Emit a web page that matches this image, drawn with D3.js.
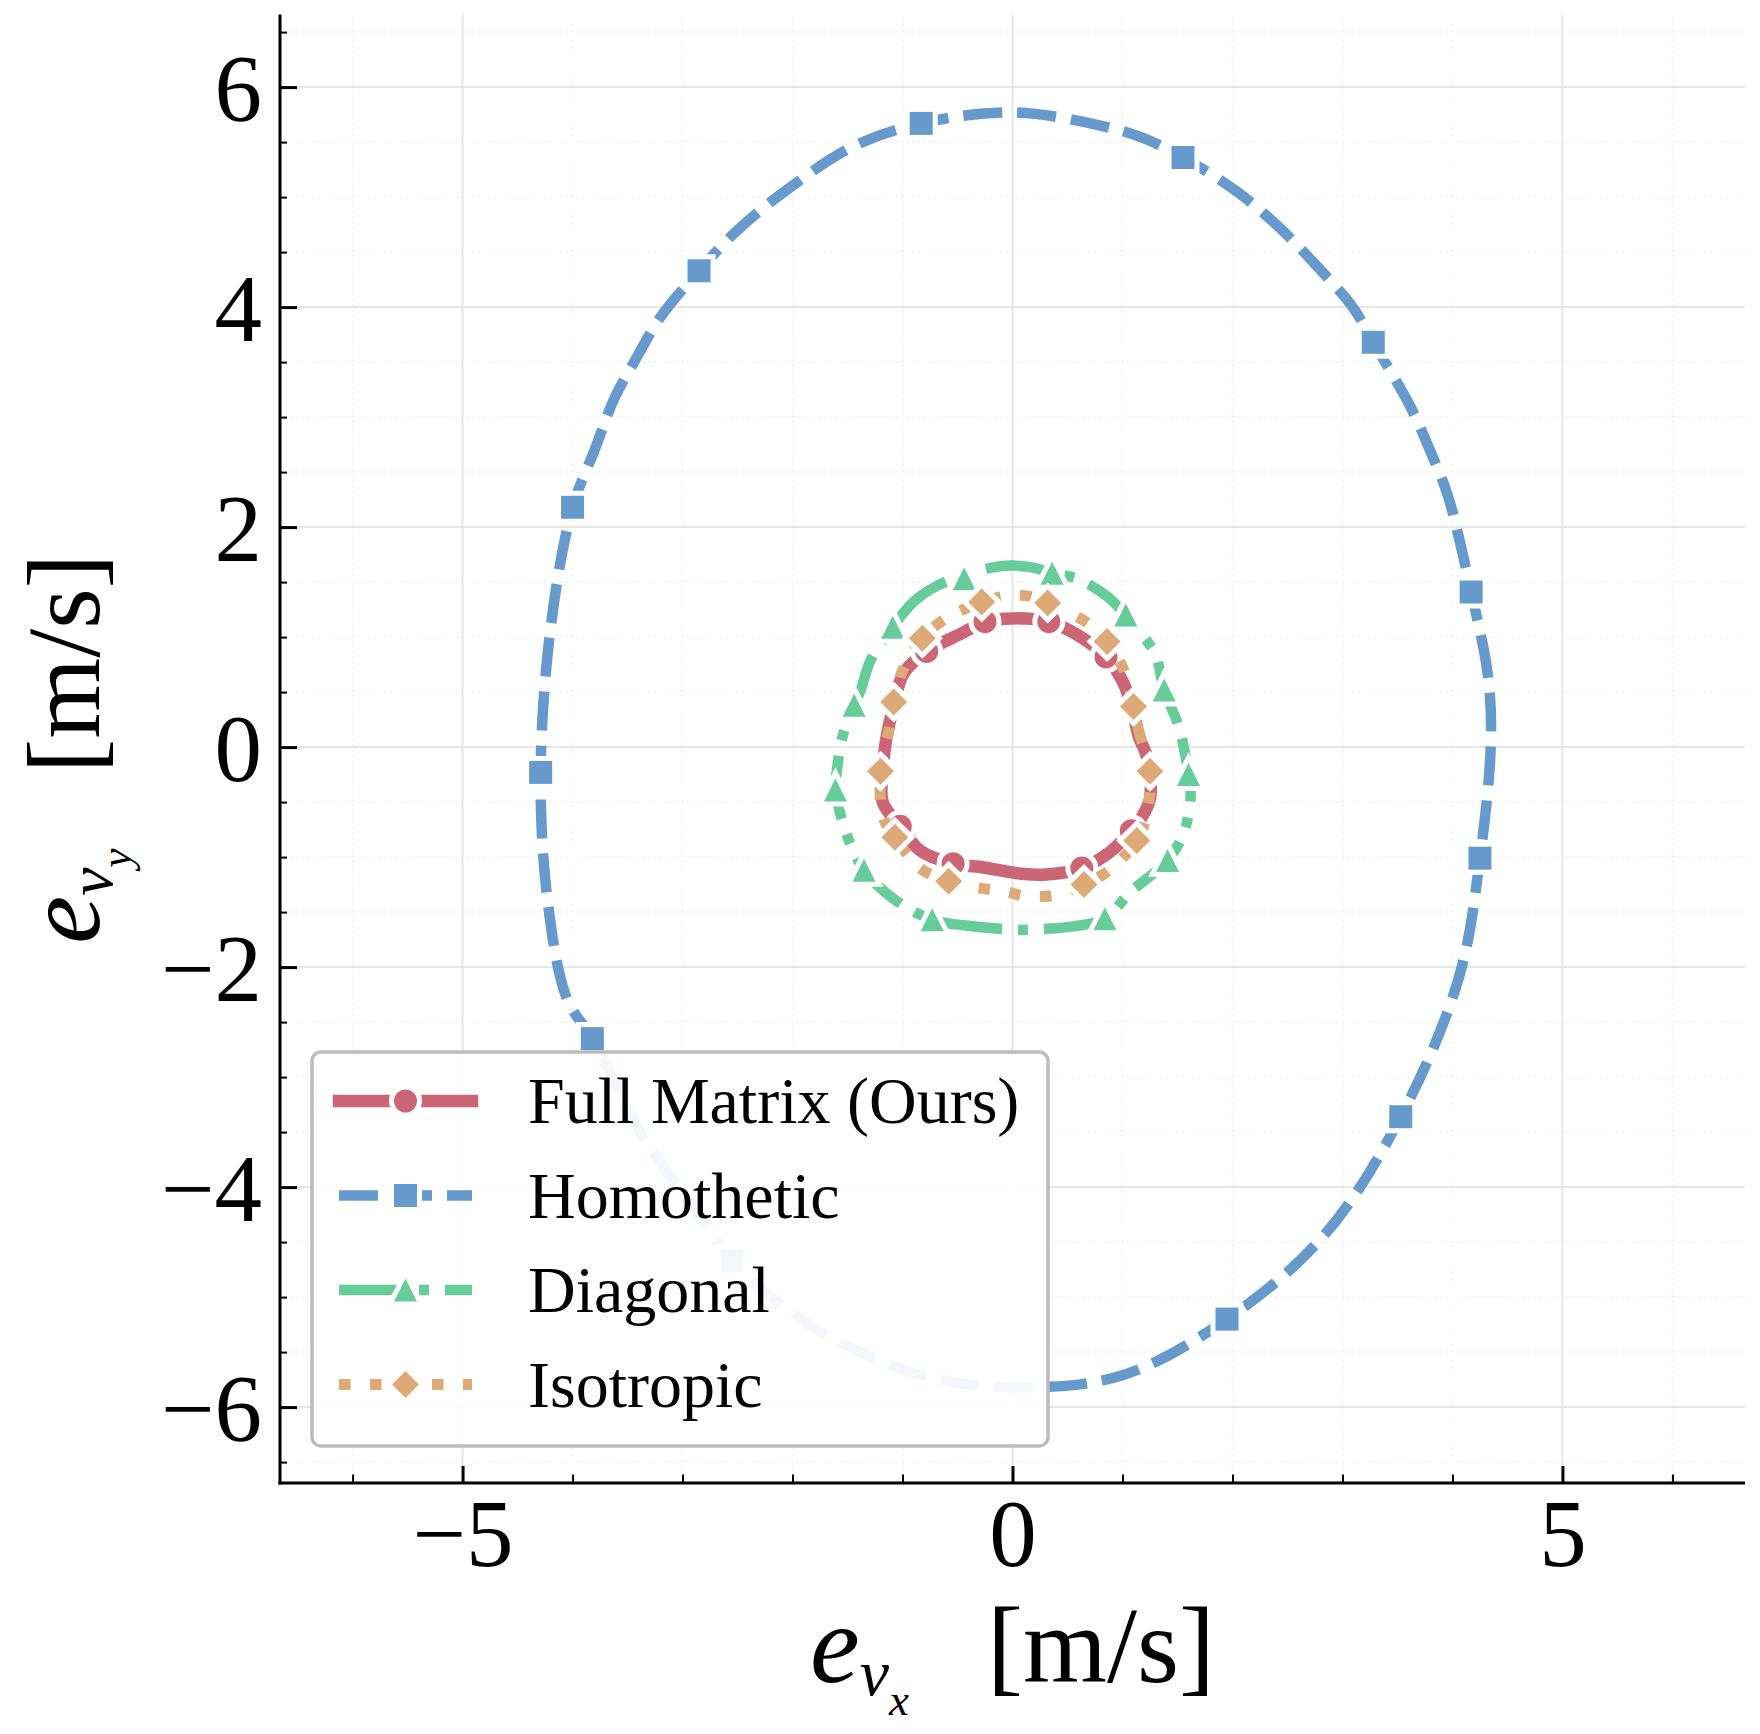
<!DOCTYPE html>
<html>
<head>
<meta charset="utf-8">
<script src="https://cdn.jsdelivr.net/npm/d3@7"></script>
<style>
  body { margin: 0; background: #fff; }
  text { font-family: "Liberation Serif", "Times New Roman", serif; fill: #000; }
</style>
</head>
<body>
<div id="graph"></div>
<script>
// ---- data (m/s) ----
var seriesNames = ["Full Matrix (Ours)", "Homothetic", "Diagonal", "Isotropic"];

var xTicks = [-5, 0, 5];
var yTicks = [-6, -4, -2, 0, 2, 4, 6];
var xMinorTicks = [-6, -4, -3, -2, -1, 1, 2, 3, 4, 6];
var yMinorTicks = [-6.5, -5.5, -5, -4.5, -3.5, -3, -2.5, -1.5, -1, -0.5,
                   0.5, 1, 1.5, 2.5, 3, 3.5, 4.5, 5, 5.5, 6.5];

var fullMatrixCurve = [
  [1.21, -0.05], [1.15, 0.09], [1.09, 0.34], [1.01, 0.58], [0.85, 0.82], [0.59, 1.02],
  [0.33, 1.14], [0.00, 1.17], [-0.25, 1.14], [-0.47, 1.03], [-0.78, 0.87], [-0.99, 0.67],
  [-1.09, 0.34], [-1.15, 0.06], [-1.18, -0.22], [-1.18, -0.50], [-1.02, -0.72], [-0.84, -0.94],
  [-0.54, -1.06], [-0.29, -1.09], [0.07, -1.15], [0.28, -1.16], [0.63, -1.10], [0.89, -0.95],
  [1.08, -0.76], [1.18, -0.63], [1.25, -0.47], [1.25, -0.24]
];
var fullMatrixMarks = [
  [-0.25, 1.14], [0.33, 1.14], [-0.78, 0.87], [0.85, 0.82],
  [-1.02, -0.72], [-0.54, -1.06], [0.63, -1.10], [1.08, -0.76]
];

var homotheticCurve = [
  [4.35, 0.06], [4.32, 0.67], [4.17, 1.41], [3.96, 2.28], [3.82, 2.64], [3.61, 3.11],
  [3.28, 3.68], [3.10, 3.99], [2.77, 4.37], [2.43, 4.72], [2.04, 5.05], [1.55, 5.36],
  [1.18, 5.54], [0.80, 5.65], [0.00, 5.77], [-0.83, 5.67], [-1.45, 5.46], [-2.06, 5.06],
  [-2.50, 4.70], [-2.85, 4.33], [-3.20, 3.91], [-3.44, 3.50], [-3.62, 3.17], [-3.80, 2.70],
  [-4.00, 2.18], [-4.20, 1.08], [-4.29, -0.23], [-4.23, -1.37], [-4.05, -2.29], [-3.82, -2.65],
  [-3.38, -3.51], [-2.87, -4.23], [-2.55, -4.67], [-1.85, -5.25], [-0.83, -5.71], [0.09, -5.82],
  [1.00, -5.71], [1.95, -5.20], [2.84, -4.43], [3.53, -3.36], [4.06, -2.09], [4.25, -1.01]
];
var homotheticMarks = [
  [-0.83, 5.67], [1.55, 5.36], [3.28, 3.68], [4.17, 1.41], [4.25, -1.01], [3.53, -3.36],
  [1.95, -5.20], [-2.55, -4.67], [-3.82, -2.65], [-4.29, -0.23], [-4.00, 2.18], [-2.85, 4.33]
];

var diagonalCurve = [
  [1.54, 0.08], [1.50, 0.22], [1.38, 0.52], [1.30, 0.84], [1.18, 1.02], [1.03, 1.20],
  [0.86, 1.37], [0.59, 1.53], [0.36, 1.58], [0.20, 1.63], [0.00, 1.65], [-0.20, 1.63],
  [-0.44, 1.56], [-0.68, 1.47], [-0.90, 1.32], [-1.09, 1.09], [-1.29, 0.79], [-1.38, 0.52],
  [-1.44, 0.38], [-1.55, 0.08], [-1.59, -0.16], [-1.61, -0.39], [-1.56, -0.63], [-1.47, -0.89],
  [-1.35, -1.12], [-1.08, -1.38], [-0.73, -1.57], [-0.44, -1.62], [0.01, -1.66], [0.16, -1.66],
  [0.55, -1.63], [0.84, -1.56], [1.07, -1.32], [1.41, -1.03], [1.56, -0.77], [1.62, -0.44],
  [1.60, -0.25]
];
var diagonalMarks = [
  [-0.44, 1.53], [0.36, 1.58], [-1.09, 1.09], [1.03, 1.20], [-1.44, 0.38], [1.38, 0.52],
  [-1.61, -0.39], [1.60, -0.25], [-1.35, -1.12], [1.41, -1.03], [-0.73, -1.57], [0.84, -1.56]
];

var isotropicCurve = [
  [1.20, -0.03], [1.15, 0.14], [1.10, 0.37], [1.02, 0.68], [0.86, 0.96], [0.68, 1.13],
  [0.32, 1.31], [0.16, 1.37], [0.00, 1.38], [-0.09, 1.37], [-0.28, 1.32], [-0.62, 1.16],
  [-0.82, 0.99], [-0.99, 0.72], [-1.08, 0.41], [-1.12, 0.17], [-1.17, -0.03], [-1.20, -0.22],
  [-1.18, -0.63], [-1.07, -0.82], [-0.84, -1.10], [-0.58, -1.22], [-0.31, -1.28], [-0.03, -1.32],
  [0.09, -1.35], [0.36, -1.35], [0.65, -1.25], [0.88, -1.12], [1.13, -0.85], [1.21, -0.66],
  [1.25, -0.41], [1.25, -0.22]
];
var isotropicMarks = [
  [-0.28, 1.32], [0.32, 1.31], [-0.82, 0.99], [0.86, 0.96], [-1.08, 0.41], [1.10, 0.37],
  [-1.20, -0.22], [1.25, -0.22], [-1.07, -0.82], [1.13, -0.85], [-0.58, -1.22], [0.65, -1.25]
];

// ---- styling ----
var w = 1760, h = 1734;
var styles = [
  {color: "#CC6677", width: 12.5, dash: null,             marker: "circle",   r: 11.5, cap: "square"},
  {color: "#6699CC", width: 10.5, dash: "39,15",          marker: "square",   r: 11.5, cap: "butt"},
  {color: "#66CC99", width: 10.5, dash: "64,16,10,16",    marker: "triangle", r: 11.5, cap: "butt"},
  {color: "#DDAA77", width: 11,   dash: "11.5,19.5",      marker: "diamond",  r: 13.5, cap: "butt"}
];
var curves = [fullMatrixCurve, homotheticCurve, diagonalCurve, isotropicCurve];
var marks = [fullMatrixMarks, homotheticMarks, diagonalMarks, isotropicMarks];

var x = d3.scaleLinear().domain([-6.66, 6.66]).range([280, 1745]);
var y = d3.scaleLinear().domain([-6.69, 6.66]).range([1483, 14.5]);

function markerPath(type, r) {
  if (type === "circle") return d3.symbol(d3.symbolCircle, Math.PI * r * r)();
  if (type === "square") return "M" + (-r) + "," + (-r) + "H" + r + "V" + r + "H" + (-r) + "Z";
  if (type === "triangle") return "M0," + (-r) + "L" + r + "," + r + "L" + (-r) + "," + r + "Z";
  return "M0," + (-r) + "L" + r + ",0L0," + r + "L" + (-r) + ",0Z";
}

var svg = d3.select("#graph").append("svg")
  .attr("width", w)
  .attr("height", h);

// grid
var grid = svg.append("g").attr("class", "grid");
grid.selectAll(".xminor").data(xMinorTicks).enter().append("line")
  .attr("x1", d => x(d)).attr("x2", d => x(d))
  .attr("y1", y.range()[0]).attr("y2", y.range()[1])
  .attr("stroke", "#ebebeb").attr("stroke-width", 1.5).attr("stroke-dasharray", "1.5,4");
grid.selectAll(".yminor").data(yMinorTicks).enter().append("line")
  .attr("y1", d => y(d)).attr("y2", d => y(d))
  .attr("x1", x.range()[0]).attr("x2", x.range()[1])
  .attr("stroke", "#ebebeb").attr("stroke-width", 1.5).attr("stroke-dasharray", "1.5,4");
grid.selectAll(".xmajor").data(xTicks).enter().append("line")
  .attr("x1", d => x(d)).attr("x2", d => x(d))
  .attr("y1", y.range()[0]).attr("y2", y.range()[1])
  .attr("stroke", "#e6e6e6").attr("stroke-width", 2);
grid.selectAll(".ymajor").data(yTicks).enter().append("line")
  .attr("y1", d => y(d)).attr("y2", d => y(d))
  .attr("x1", x.range()[0]).attr("x2", x.range()[1])
  .attr("stroke", "#e6e6e6").attr("stroke-width", 2);

// curves + markers, in legend order
var line = d3.line()
  .x(d => x(d[0]))
  .y(d => y(d[1]))
  .curve(d3.curveCatmullRomClosed.alpha(0.5));

curves.forEach(function(c, i) {
  var s = styles[i];
  var g = svg.append("g").attr("class", "series");
  g.append("path")
    .attr("d", line(c))
    .attr("fill", "none")
    .attr("stroke", s.color)
    .attr("stroke-width", s.width)
    .attr("stroke-linejoin", "round")
    .attr("stroke-linecap", "butt")
    .attr("stroke-dasharray", s.dash);
  g.selectAll(".mk").data(marks[i]).enter().append("path")
    .attr("transform", d => "translate(" + x(d[0]) + "," + y(d[1]) + ")")
    .attr("d", markerPath(s.marker, s.r))
    .attr("fill", s.color)
    .attr("stroke", "#fff")
    .attr("stroke-width", 10)
    .attr("stroke-linejoin", "miter")
    .attr("paint-order", "stroke");
});

// axes (left and bottom spines only, ticks inward)
var xAxis = svg.append("g")
  .attr("transform", "translate(0," + y.range()[0] + ")")
  .call(d3.axisBottom(x).tickValues(xTicks).tickSize(-17).tickSizeOuter(0).tickPadding(15.5)
    .tickFormat(d => d < 0 ? "\u2212" + Math.abs(d) : d));
xAxis.select(".domain").attr("stroke-width", 3).attr("d", "M" + (x.range()[0] - 1.5) + ",0H" + x.range()[1]);
xAxis.selectAll(".tick line").attr("stroke-width", 3);
xAxis.selectAll(".tick text").attr("font-size", 95).attr("font-family", null);

svg.append("g")
  .attr("transform", "translate(0," + y.range()[0] + ")")
  .call(d3.axisBottom(x).tickValues(xMinorTicks).tickSize(-8.5).tickSizeOuter(0).tickFormat(""))
  .call(g => g.select(".domain").remove())
  .selectAll(".tick line").attr("stroke-width", 2);

var yAxis = svg.append("g")
  .attr("transform", "translate(" + x.range()[0] + ",0)")
  .call(d3.axisLeft(y).tickValues(yTicks).tickSize(-17).tickSizeOuter(0).tickPadding(18)
    .tickFormat(d => d < 0 ? "\u2212" + Math.abs(d) : d));
yAxis.select(".domain").attr("stroke-width", 3).attr("d", "M0," + y.range()[1] + "V" + (y.range()[0] + 1.5));
yAxis.selectAll(".tick line").attr("stroke-width", 3);
yAxis.selectAll(".tick text").attr("font-size", 95).attr("dy", "0.35em").attr("font-family", null);

svg.append("g")
  .attr("transform", "translate(" + x.range()[0] + ",0)")
  .call(d3.axisLeft(y).tickValues(yMinorTicks).tickSize(-7).tickSizeOuter(0).tickFormat(""))
  .call(g => g.select(".domain").remove())
  .selectAll(".tick line").attr("stroke-width", 2);

// axis labels
function axisLabel(sel, sub, size) {
  var k = size / 108;
  sel.attr("text-anchor", "middle").attr("font-size", size);
  sel.append("tspan").attr("font-style", "italic").attr("font-size", 112 * k).text("e");
  sel.append("tspan").attr("font-style", "italic").attr("font-size", 66 * k).attr("dy", 13 * k).text("v");
  sel.append("tspan").attr("font-style", "italic").attr("font-size", 45 * k).attr("dy", 20 * k).text(sub);
  sel.append("tspan").attr("dx", 78 * k).attr("dy", -33 * k).text("[m/s]");
}
svg.append("text")
  .attr("x", (x.range()[0] + x.range()[1]) / 2)
  .attr("y", 1682)
  .call(axisLabel, "x", 108);
svg.append("text")
  .attr("transform", "translate(99," + ((y.range()[0] + y.range()[1]) / 2) + ") rotate(-90)")
  .call(axisLabel, "y", 104);

// legend
var legend = svg.append("g").attr("class", "legend");
legend.append("rect")
  .attr("x", 312).attr("y", 1052)
  .attr("width", 736).attr("height", 394)
  .attr("rx", 9)
  .attr("fill", "#fff").attr("fill-opacity", 0.92)
  .attr("stroke", "#bcbcbc").attr("stroke-width", 3.5);

var item = legend.selectAll(".item").data(seriesNames).enter().append("g")
  .attr("transform", (d, i) => "translate(0," + (1101 + i * 94.5) + ")");
item.append("line")
  .attr("x1", 339).attr("x2", 472)
  .attr("stroke", (d, i) => styles[i].color)
  .attr("stroke-width", (d, i) => styles[i].width)
  .attr("stroke-linecap", (d, i) => styles[i].cap)
  .attr("stroke-dasharray", (d, i) => styles[i].dash);
item.append("path")
  .attr("transform", "translate(405.5,0)")
  .attr("d", (d, i) => markerPath(styles[i].marker, styles[i].r))
  .attr("fill", (d, i) => styles[i].color)
  .attr("stroke", "#fff")
  .attr("stroke-width", 10)
  .attr("stroke-linejoin", "miter")
  .attr("paint-order", "stroke");
item.append("text")
  .attr("x", 528).attr("y", 22)
  .attr("font-size", 66)
  .text(d => d);
</script>
</body>
</html>
